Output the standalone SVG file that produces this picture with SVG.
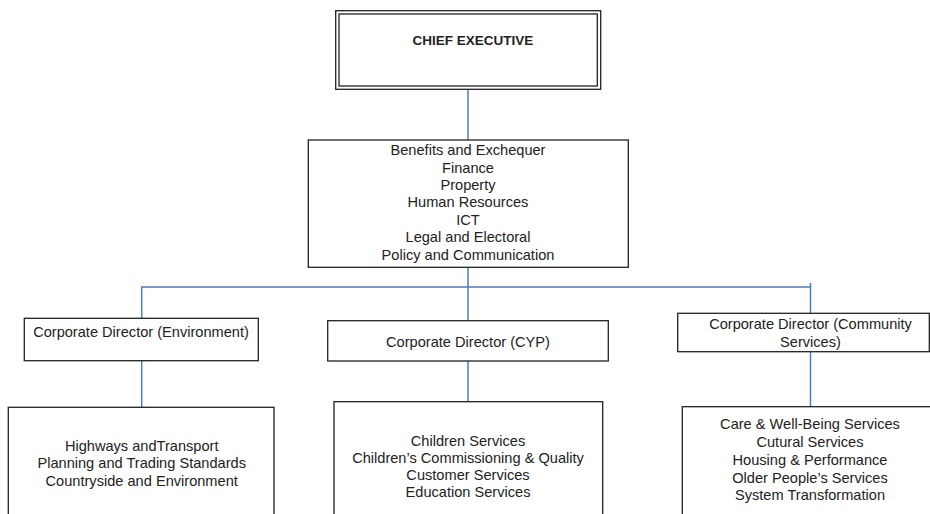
<svg xmlns="http://www.w3.org/2000/svg" width="930" height="514" viewBox="0 0 930 514">
<style>
.box{fill:#fff;stroke:#222;stroke-width:1.3}
.conn{stroke:#4a7ebb;stroke-width:1.5;fill:none}
text{font-family:"Liberation Sans",Arial,sans-serif;font-size:14.6px;fill:#222;text-anchor:middle}
.b{font-weight:bold;font-size:13.5px}
</style>
<rect width="930" height="514" fill="#fff"/>
<g id="connectors">
<line class="conn" x1="468" y1="89" x2="468" y2="140"/>
<line class="conn" x1="468" y1="267" x2="468" y2="321"/>
<polyline class="conn" points="141.7,318 141.7,287 810.5,287"/>
<line class="conn" x1="810.5" y1="283" x2="810.5" y2="313.5"/>
<line class="conn" x1="141.7" y1="360.7" x2="141.7" y2="407.3"/>
<line class="conn" x1="468" y1="361" x2="468" y2="401.7"/>
<line class="conn" x1="810.5" y1="351.7" x2="810.5" y2="406.7"/>
<line class="conn" x1="904" y1="446.7" x2="904" y2="454"/>
</g>
<g id="chief">
<rect class="box" x="335.7" y="10.7" width="265" height="78.6"/>
<rect class="box" x="339" y="14" width="258.3" height="72"/>
<text class="b" x="473" y="45">CHIEF EXECUTIVE</text>
</g>
<g id="central">
<rect class="box" x="308.3" y="140" width="320" height="127.3"/>
<text x="468" y="155">Benefits and Exchequer</text>
<text x="468" y="172.5">Finance</text>
<text x="468" y="190">Property</text>
<text x="468" y="207.3">Human Resources</text>
<text x="468" y="224.7">ICT</text>
<text x="468" y="242.2">Legal and Electoral</text>
<text x="468" y="259.5">Policy and Communication</text>
</g>
<g id="dir-env">
<rect class="box" x="24.3" y="318.3" width="234" height="42.4"/>
<text x="141" y="337.3">Corporate Director (Environment)</text>
</g>
<g id="dir-cyp">
<rect class="box" x="327.7" y="320.7" width="280.6" height="40.3"/>
<text x="468" y="346.7">Corporate Director (CYP)</text>
</g>
<g id="dir-com">
<rect class="box" x="677.7" y="313.3" width="251.6" height="38.4"/>
<text x="810.5" y="329.3">Corporate Director (Community</text>
<text x="810.5" y="346.7">Services)</text>
</g>
<g id="env-services">
<rect class="box" x="8.3" y="407.3" width="265.7" height="120"/>
<text x="141.7" y="450.7">Highways andTransport</text>
<text x="141.7" y="468.3">Planning and Trading Standards</text>
<text x="141.7" y="485.7">Countryside and Environment</text>
</g>
<g id="cyp-services">
<rect class="box" x="334" y="401.7" width="268.7" height="130"/>
<text x="468" y="446">Children Services</text>
<text x="468" y="463.3">Children’s Commissioning &amp; Quality</text>
<text x="468" y="480.3">Customer Services</text>
<text x="468" y="497.3">Education Services</text>
</g>
<g id="com-services">
<rect class="box" x="682.3" y="406.7" width="260" height="130"/>
<text x="810" y="429">Care &amp; Well-Being Services</text>
<text x="810" y="446.7">Cutural Services</text>
<text x="810" y="465">Housing &amp; Performance</text>
<text x="810" y="482.7">Older People’s Services</text>
<text x="810" y="500">System Transformation</text>
</g>
</svg>
